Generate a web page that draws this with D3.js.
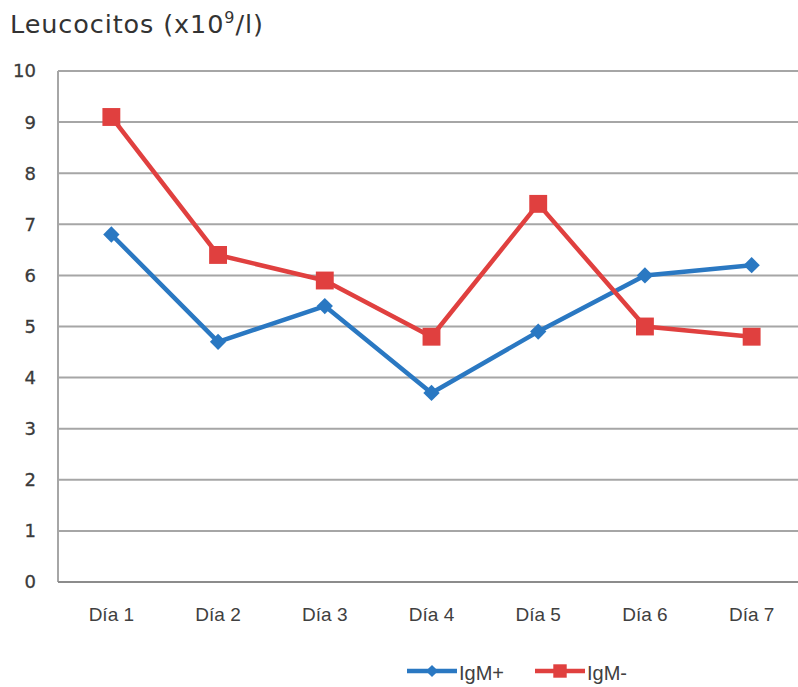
<!DOCTYPE html>
<html><head><meta charset="utf-8">
<script src="https://cdn.jsdelivr.net/npm/d3@7"></script>
<style>body{margin:0;background:#fff}svg{display:block}</style>
</head><body>
<svg id="c" width="798" height="687"></svg>
<script>
const categories = ["Día 1","Día 2","Día 3","Día 4","Día 5","Día 6","Día 7"];
const igmPos = [6.8, 4.7, 5.4, 3.7, 4.9, 6.0, 6.2];
const igmNeg = [9.1, 6.4, 5.9, 4.8, 7.4, 5.0, 4.8];
const yTicks = [0,1,2,3,4,5,6,7,8,9,10];
const seriesNames = ["IgM+","IgM-"];

(function(){
const svg = d3.select("#c");
const pl = 58, pr = 805, pt = 71, pb = 582;
const x = d3.scaleBand().domain(categories).range([pl, pr]);
const y = d3.scaleLinear().domain([0,10]).range([pb, pt]);

svg.append("g").selectAll("line").data(yTicks.filter(d=>d>0)).join("line")
  .attr("x1", pl).attr("x2", pr)
  .attr("y1", d=>y(d)).attr("y2", d=>y(d))
  .attr("stroke", "#a6a6a6").attr("stroke-width", 2);

svg.append("line").attr("x1", pl).attr("x2", pl).attr("y1", pt).attr("y2", pb)
  .attr("stroke", "#a6a6a6").attr("stroke-width", 2);
svg.append("line").attr("x1", pl).attr("x2", pr).attr("y1", pb).attr("y2", pb)
  .attr("stroke", "#8c8c8c").attr("stroke-width", 2);

svg.append("g").selectAll("text").data(yTicks).join("text")
  .attr("x", 36).attr("y", d=>y(d)).attr("dy", "0.36em")
  .attr("text-anchor", "end")
  .attr("font-family", "DejaVu Sans, Verdana, sans-serif")
  .attr("font-size", 18).attr("fill", "#3a3a3a")
  .attr("stroke", "#3a3a3a").attr("stroke-width", 0.3)
  .text(d=>d);

svg.append("g").selectAll("text").data(categories).join("text")
  .attr("x", d=>x(d)+x.bandwidth()/2).attr("y", 621)
  .attr("text-anchor", "middle")
  .attr("font-family", "Liberation Sans, Arial, sans-serif")
  .attr("font-size", 19).attr("fill", "#404040")
  .text(d=>d);

const t = svg.append("text").attr("x", 10).attr("y", 33)
  .attr("font-family", "DejaVu Sans, Verdana, sans-serif")
  .attr("font-size", 25.5).attr("letter-spacing", 0.9).attr("fill", "#333");
t.append("tspan").text("Leucocitos (x10");
t.append("tspan").attr("font-size", 16).attr("dy", -10).text("9");
t.append("tspan").attr("dy", 10).text("/l)");

const blue = "#2a78c2", red = "#e0403f";
const line = d3.line().x((d,i)=>x(categories[i])+x.bandwidth()/2).y(d=>y(d));

svg.append("path").datum(igmPos).attr("d", line).attr("fill","none")
  .attr("stroke", blue).attr("stroke-width", 4.5).attr("stroke-linejoin","round");
svg.append("path").datum(igmNeg).attr("d", line).attr("fill","none")
  .attr("stroke", red).attr("stroke-width", 4.5).attr("stroke-linejoin","round");

const diamond = d3.symbol().type(d3.symbolDiamond2).size(170);
const square = d3.symbol().type(d3.symbolSquare).size(320);

svg.append("g").selectAll("path").data(igmPos).join("path")
  .attr("d", diamond)
  .attr("transform",(d,i)=>`translate(${x(categories[i])+x.bandwidth()/2},${y(d)})`)
  .attr("fill", blue);
svg.append("g").selectAll("path").data(igmNeg).join("path")
  .attr("d", square)
  .attr("transform",(d,i)=>`translate(${x(categories[i])+x.bandwidth()/2},${y(d)})`)
  .attr("fill", red);

const lg = svg.append("g");
const legendItems = [
  {name: seriesNames[0], color: blue, sym: diamond, sz: 0.75, x0: 407},
  {name: seriesNames[1], color: red, sym: square, sz: 0.75, x0: 535}
];
legendItems.forEach(it=>{
  lg.append("line").attr("x1", it.x0).attr("x2", it.x0+50).attr("y1", 671).attr("y2", 671)
    .attr("stroke", it.color).attr("stroke-width", 4.5);
  lg.append("path").attr("d", it.sym).attr("transform", `translate(${it.x0+25},671) scale(${it.sz})`)
    .attr("fill", it.color);
  lg.append("text").attr("x", it.x0+52).attr("y", 680)
    .attr("font-family", "Liberation Sans, Arial, sans-serif")
    .attr("font-size", 20).attr("fill", "#404040").text(it.name);
});
})();
</script>
</body></html>
